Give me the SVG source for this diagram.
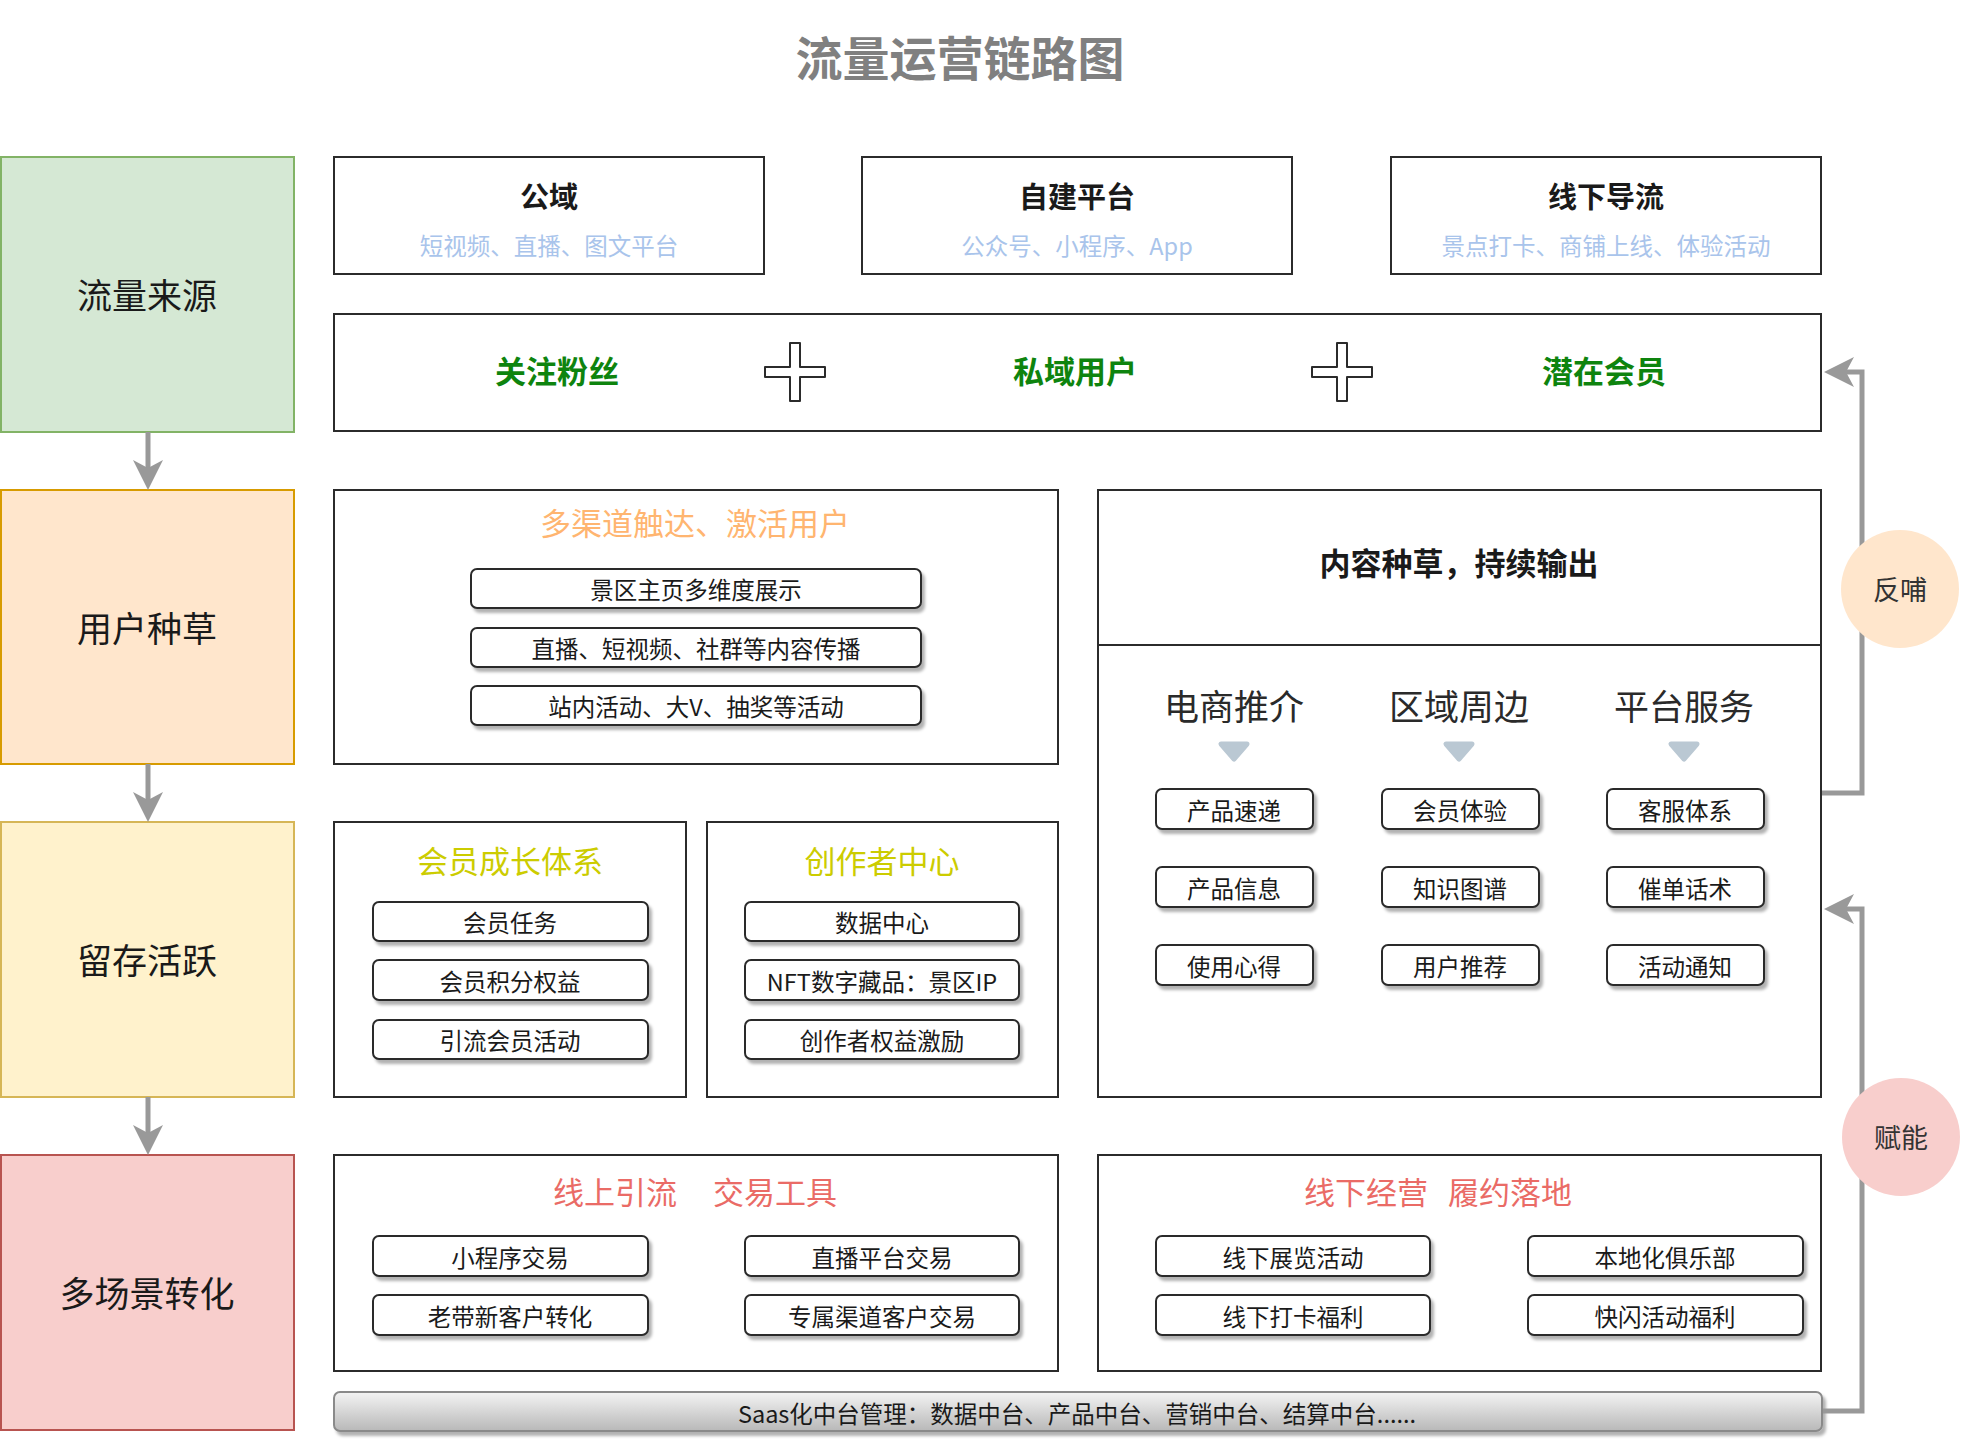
<svg xmlns="http://www.w3.org/2000/svg" width="1961" height="1440" viewBox="0 0 1961 1440">
<defs>
<style>
text{font-family:"Noto Sans CJK SC","Noto Sans",sans-serif;text-anchor:middle;dominant-baseline:central;fill:#1a1a1a}
.box{fill:#fff;stroke:#2b2b2b;stroke-width:2}
.item{fill:#fff;stroke:#2b2b2b;stroke-width:2;filter:url(#sh)}
.it{font-size:23.5px}
.stage{font-size:35px}
.ttl{font-size:29px;font-weight:bold}
.sub{font-size:23.5px;fill:#a9c4eb}
.grn{font-size:31px;font-weight:bold;fill:#0e840e}
.sec{font-size:31px}
.hdr{font-size:35px;fill:#2a2a2a}
.tri{fill:#bac8d3;stroke:#bac8d3;stroke-width:5;stroke-linejoin:round}
.conn{fill:none;stroke:#999;stroke-width:5}
.circ{font-size:27px;fill:#333}
</style>
<filter id="sh" x="-10%" y="-30%" width="125%" height="180%">
<feDropShadow dx="3" dy="4" stdDeviation="1.5" flood-color="#000" flood-opacity="0.3"/>
</filter>
<linearGradient id="barg" x1="0" y1="0" x2="0" y2="1">
<stop offset="0" stop-color="#f4f4f4"/>
<stop offset="1" stop-color="#b8b8b8"/>
</linearGradient>
<marker id="arr" viewBox="0 0 30 30" markerWidth="30" markerHeight="30" refX="8" refY="15" orient="auto" markerUnits="userSpaceOnUse">
<path d="M0,0 L30,15 L0,30 L8,15 Z" fill="#999"/>
</marker>
</defs>
<rect width="1961" height="1440" fill="#fff"/>

<text id="title" x="960" y="55" style="font-size:47px;font-weight:bold;fill:#808080">流量运营链路图</text>

<g id="stage-source">
<rect x="1" y="157" width="293" height="275" fill="#d5e8d4" stroke="#82b366" stroke-width="2"/>
<text class="stage" x="147" y="293">流量来源</text>
</g>
<g id="stage-seed">
<rect x="1" y="490" width="293" height="274" fill="#ffe6cc" stroke="#d79b00" stroke-width="2"/>
<text class="stage" x="147" y="626">用户种草</text>
</g>
<g id="stage-retain">
<rect x="1" y="822" width="293" height="275" fill="#fff2cc" stroke="#d6b656" stroke-width="2"/>
<text class="stage" x="147" y="958">留存活跃</text>
</g>
<g id="stage-convert">
<rect x="1" y="1155" width="293" height="275" fill="#f8cecc" stroke="#b85450" stroke-width="2"/>
<text class="stage" x="147" y="1291">多场景转化</text>
</g>

<g id="public-domain">
<rect class="box" x="334" y="157" width="430" height="117"/>
<text class="ttl" x="549" y="195">公域</text>
<text class="sub" x="549" y="245">短视频、直播、图文平台</text>
</g>
<g id="own-platform">
<rect class="box" x="862" y="157" width="430" height="117"/>
<text class="ttl" x="1077" y="195">自建平台</text>
<text class="sub" x="1077" y="245">公众号、小程序、App</text>
</g>
<g id="offline-traffic">
<rect class="box" x="1391" y="157" width="430" height="117"/>
<text class="ttl" x="1606" y="195">线下导流</text>
<text class="sub" x="1606" y="245">景点打卡、商铺上线、体验活动</text>
</g>

<g id="users-row">
<rect class="box" x="334" y="314" width="1487" height="117"/>
<text class="grn" x="557" y="369">关注粉丝</text>
<path d="M790,343 h10 v24 h25 v10 h-25 v24 h-10 v-24 h-25 v-10 h25 z" fill="#fff" stroke="#2b2b2b" stroke-width="2" stroke-linejoin="round"/>
<text class="grn" x="1075" y="369">私域用户</text>
<path d="M1337,343 h10 v24 h25 v10 h-25 v24 h-10 v-24 h-25 v-10 h25 z" fill="#fff" stroke="#2b2b2b" stroke-width="2" stroke-linejoin="round"/>
<text class="grn" x="1604" y="369">潜在会员</text>
</g>

<g id="multi-channel">
<rect class="box" x="334" y="490" width="724" height="274"/>
<text class="sec" x="695" y="521" style="fill:#ffb570">多渠道触达、激活用户</text>
<rect class="item" x="471" y="569" width="450" height="39" rx="6"/>
<text class="it" x="696" y="589">景区主页多维度展示</text>
<rect class="item" x="471" y="628" width="450" height="39" rx="6"/>
<text class="it" x="696" y="648">直播、短视频、社群等内容传播</text>
<rect class="item" x="471" y="686" width="450" height="39" rx="6"/>
<text class="it" x="696" y="706">站内活动、大V、抽奖等活动</text>
</g>

<g id="content">
<rect class="box" x="1098" y="490" width="723" height="607"/>
<line x1="1098" y1="645" x2="1821" y2="645" stroke="#2b2b2b" stroke-width="2"/>
<text x="1459" y="561" style="font-size:31px;font-weight:bold">内容种草，持续输出</text>
<text class="hdr" x="1234" y="704">电商推介</text>
<text class="hdr" x="1459" y="704">区域周边</text>
<text class="hdr" x="1684" y="704">平台服务</text>
<path class="tri" d="M1221,744 L1247,744 L1234,759 Z"/>
<path class="tri" d="M1446,744 L1472,744 L1459,759 Z"/>
<path class="tri" d="M1671,744 L1697,744 L1684,759 Z"/>
<rect class="item" x="1156" y="789" width="157" height="40" rx="6"/>
<text class="it" x="1234" y="810">产品速递</text>
<rect class="item" x="1156" y="867" width="157" height="40" rx="6"/>
<text class="it" x="1234" y="888">产品信息</text>
<rect class="item" x="1156" y="945" width="157" height="40" rx="6"/>
<text class="it" x="1234" y="966">使用心得</text>
<rect class="item" x="1382" y="789" width="157" height="40" rx="6"/>
<text class="it" x="1460" y="810">会员体验</text>
<rect class="item" x="1382" y="867" width="157" height="40" rx="6"/>
<text class="it" x="1460" y="888">知识图谱</text>
<rect class="item" x="1382" y="945" width="157" height="40" rx="6"/>
<text class="it" x="1460" y="966">用户推荐</text>
<rect class="item" x="1607" y="789" width="157" height="40" rx="6"/>
<text class="it" x="1685" y="810">客服体系</text>
<rect class="item" x="1607" y="867" width="157" height="40" rx="6"/>
<text class="it" x="1685" y="888">催单话术</text>
<rect class="item" x="1607" y="945" width="157" height="40" rx="6"/>
<text class="it" x="1685" y="966">活动通知</text>
</g>

<g id="member-growth">
<rect class="box" x="334" y="822" width="352" height="275"/>
<text class="sec" x="510" y="859" style="fill:#cccc00">会员成长体系</text>
<rect class="item" x="373" y="902" width="275" height="39" rx="6"/>
<text class="it" x="510" y="922">会员任务</text>
<rect class="item" x="373" y="960" width="275" height="40" rx="6"/>
<text class="it" x="510" y="981">会员积分权益</text>
<rect class="item" x="373" y="1020" width="275" height="39" rx="6"/>
<text class="it" x="510" y="1040">引流会员活动</text>
</g>

<g id="creator-center">
<rect class="box" x="707" y="822" width="351" height="275"/>
<text class="sec" x="882" y="859" style="fill:#cccc00">创作者中心</text>
<rect class="item" x="745" y="902" width="274" height="39" rx="6"/>
<text class="it" x="882" y="922">数据中心</text>
<rect class="item" x="745" y="960" width="274" height="40" rx="6"/>
<text class="it" x="882" y="981">NFT数字藏品：景区IP</text>
<rect class="item" x="745" y="1020" width="274" height="39" rx="6"/>
<text class="it" x="882" y="1040">创作者权益激励</text>
</g>

<g id="online">
<rect class="box" x="334" y="1155" width="724" height="216"/>
<text class="sec" style="fill:#ea6b66" y="1190"><tspan x="615">线上引流</tspan><tspan x="775">交易工具</tspan></text>
<rect class="item" x="373" y="1236" width="275" height="40" rx="6"/>
<text class="it" x="510" y="1257">小程序交易</text>
<rect class="item" x="373" y="1295" width="275" height="40" rx="6"/>
<text class="it" x="510" y="1316">老带新客户转化</text>
<rect class="item" x="745" y="1236" width="274" height="40" rx="6"/>
<text class="it" x="882" y="1257">直播平台交易</text>
<rect class="item" x="745" y="1295" width="274" height="40" rx="6"/>
<text class="it" x="882" y="1316">专属渠道客户交易</text>
</g>

<g id="offline">
<rect class="box" x="1098" y="1155" width="723" height="216"/>
<text class="sec" style="fill:#ea6b66" y="1190"><tspan x="1366">线下经营</tspan><tspan x="1510">履约落地</tspan></text>
<rect class="item" x="1156" y="1236" width="274" height="40" rx="6"/>
<text class="it" x="1293" y="1257">线下展览活动</text>
<rect class="item" x="1156" y="1295" width="274" height="40" rx="6"/>
<text class="it" x="1293" y="1316">线下打卡福利</text>
<rect class="item" x="1528" y="1236" width="275" height="40" rx="6"/>
<text class="it" x="1665" y="1257">本地化俱乐部</text>
<rect class="item" x="1528" y="1295" width="275" height="40" rx="6"/>
<text class="it" x="1665" y="1316">快闪活动福利</text>
</g>

<g id="saas-bar">
<rect x="334" y="1392" width="1488" height="39" rx="6" fill="url(#barg)" stroke="#8a8a8a" stroke-width="2" filter="url(#sh)"/>
<text class="it" x="1077" y="1413">Saas化中台管理：数据中台、产品中台、营销中台、结算中台......</text>
</g>

<g id="connectors">
<line class="conn" x1="148" y1="432" x2="148" y2="468" marker-end="url(#arr)"/>
<line class="conn" x1="148" y1="764" x2="148" y2="800" marker-end="url(#arr)"/>
<line class="conn" x1="148" y1="1097" x2="148" y2="1133" marker-end="url(#arr)"/>
<polyline class="conn" points="1822,793 1862,793 1862,372 1846,372" marker-end="url(#arr)"/>
<polyline class="conn" points="1823,1411 1862,1411 1862,909 1846,909" marker-end="url(#arr)"/>
</g>

<g id="feedback">
<circle cx="1900" cy="589" r="59" fill="#ffe6cc"/>
<text class="circ" x="1900" y="588">反哺</text>
</g>
<g id="empower">
<circle cx="1901" cy="1137" r="59" fill="#f8cecc"/>
<text class="circ" x="1901" y="1136">赋能</text>
</g>
</svg>
